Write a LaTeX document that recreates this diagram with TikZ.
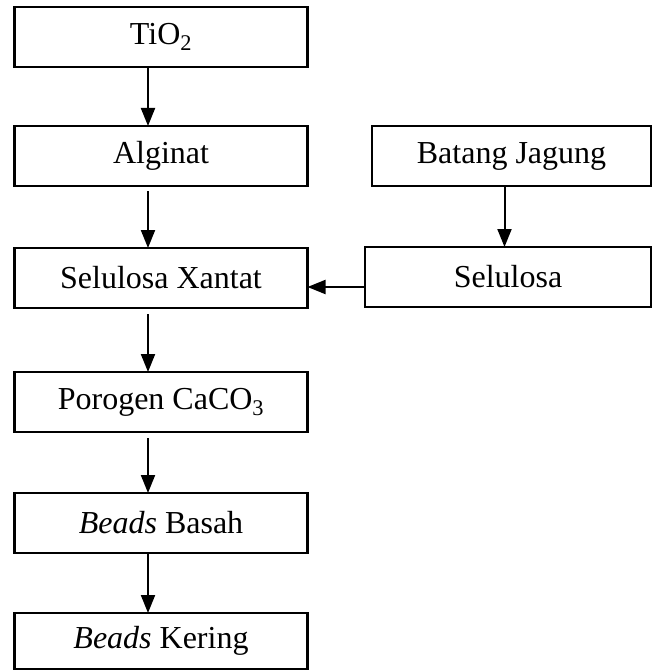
\documentclass[tikz,border=0pt]{standalone}
\usepackage{fontspec}
\setmainfont{Liberation Serif}
\usetikzlibrary{arrows.meta,positioning}

\begin{document}
\begin{tikzpicture}[
  x=1pt, y=-1pt,
  stage/.style={draw, line width=2.2pt, minimum width=293pt, minimum height=60pt,
                inner sep=0pt, outer sep=0pt, font=\fontsize{32}{38}\selectfont},
  flow/.style={-{Triangle[length=18pt,width=14pt]}, line width=2pt}
]
\useasboundingbox (0,0) rectangle (653,671);

\node[stage] (tio) at (161,37) {TiO\textsubscript{2}};
\node[stage, below=59pt of tio] (alg) {Alginat};
\node[stage, below=62pt of alg] (sx) {Selulosa Xantat};
\node[stage, below=64pt of sx] (por) {Porogen CaCO\textsubscript{3}};
\node[stage, below=61pt of por] (bas) {\textit{Beads} Basah};
\node[stage, below=60pt of bas, minimum height=56pt] (ker) {\textit{Beads} Kering};

\node[stage, minimum width=279pt] (bj) at (511.5,156) {Batang Jagung};
\node[stage, minimum width=286pt] (sel) at (508,277) {Selulosa};

\draw[flow] ([xshift=-13pt]tio.south) -- ([xshift=-13pt]tio.south |- alg.north);
\draw[flow, shorten <=5pt] ([xshift=-13pt]alg.south) -- ([xshift=-13pt]alg.south |- sx.north);
\draw[flow, shorten <=6pt] ([xshift=-13pt]sx.south) -- ([xshift=-13pt]sx.south |- por.north);
\draw[flow, shorten <=6pt] ([xshift=-13pt]por.south) -- ([xshift=-13pt]por.south |- bas.north);
\draw[flow] ([xshift=-13pt]bas.south) -- ([xshift=-13pt]bas.south |- ker.north);
\draw[flow] ([xshift=-7pt]bj.south) -- ([xshift=-7pt]bj.south |- sel.north);
\draw[flow] ([yshift=-10pt]sel.west) -- ([yshift=-10pt]sel.west -| sx.east);
\end{tikzpicture}
\end{document}
